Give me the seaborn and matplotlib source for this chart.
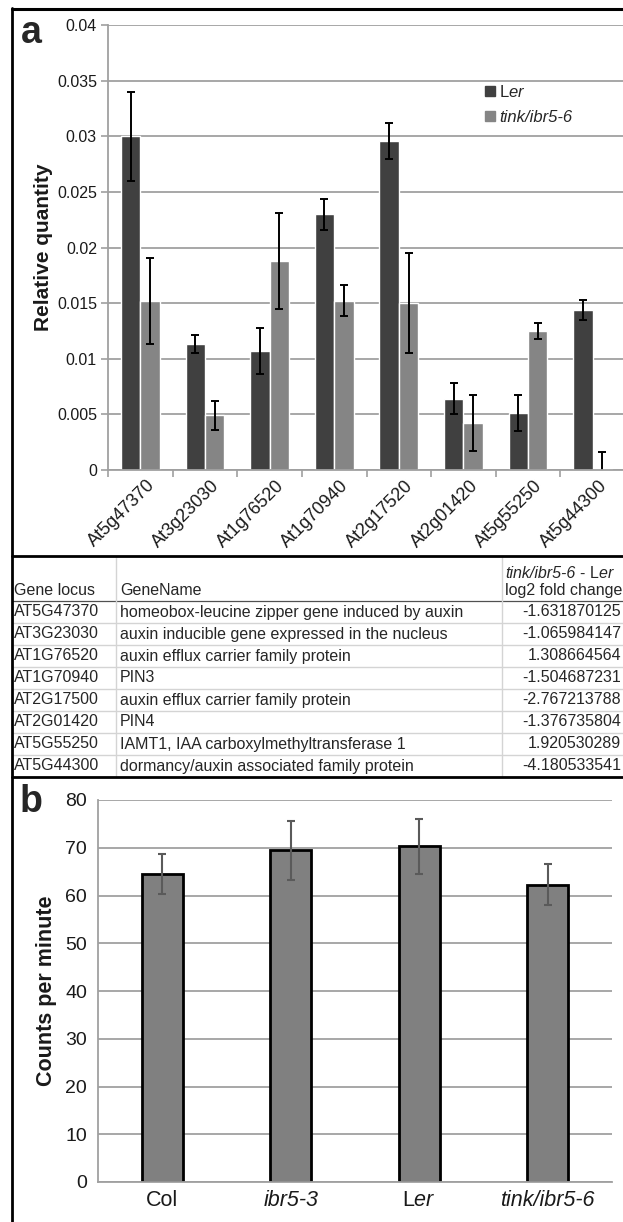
import numpy as np
import pandas as pd
import seaborn as sns
import matplotlib.pyplot as plt
from matplotlib.patches import Patch
from matplotlib.lines import Line2D
from matplotlib import transforms

sns.set_style("white")
plt.rcParams['font.family'] = ['Liberation Sans', 'DejaVu Sans']
plt.rcParams['mathtext.fontset'] = 'custom'
plt.rcParams['mathtext.rm'] = 'Liberation Sans'
plt.rcParams['mathtext.it'] = 'Liberation Sans:italic'
plt.rcParams['mathtext.bf'] = 'Liberation Sans:bold'

# panel a - qPCR relative quantity
genes = ["At5g47370", "At3g23030", "At1g76520", "At1g70940",
         "At2g17520", "At2g01420", "At5g55250", "At5g44300"]
ler_qty = [0.0300, 0.0113, 0.0107, 0.0230, 0.0296, 0.0064, 0.0051, 0.0144]
ler_err = [0.0040, 0.0008, 0.0021, 0.0014, 0.0016, 0.0014, 0.0016, 0.0009]
tink_qty = [0.0152, 0.0049, 0.0188, 0.0152, 0.0150, 0.0042, 0.0125, 0.0001]
tink_err = [0.0039, 0.0013, 0.0043, 0.0014, 0.0045, 0.0025, 0.0007, 0.0015]
lines = ["Ler", "tink/ibr5-6"]
ya_ticks = [0, 0.005, 0.01, 0.015, 0.02, 0.025, 0.03, 0.035, 0.04]
ya_labels = ["0", "0.005", "0.01", "0.015", "0.02", "0.025", "0.03", "0.035", "0.04"]

# table between the panels
tab_locus = ["AT5G47370", "AT3G23030", "AT1G76520", "AT1G70940",
             "AT2G17500", "AT2G01420", "AT5G55250", "AT5G44300"]
tab_name = ["homeobox-leucine zipper gene induced by auxin",
            "auxin inducible gene expressed in the nucleus",
            "auxin efflux carrier family protein",
            "PIN3",
            "auxin efflux carrier family protein",
            "PIN4",
            "IAMT1, IAA carboxylmethyltransferase 1",
            "dormancy/auxin associated family protein"]
tab_fc = ["-1.631870125", "-1.065984147", "1.308664564", "-1.504687231",
          "-2.767213788", "-1.376735804", "1.920530289", "-4.180533541"]

# panel b - counts per minute
genotypes = ["Col", "ibr5-3", "Ler", "tink/ibr5-6"]
geno_labels = ["Col", "ibr5-3", "L$\\mathit{er}$", "tink/ibr5-6"]
cpm = [64.5, 69.5, 70.3, 62.3]
cpm_err = [4.2, 6.2, 5.7, 4.2]

C_LER = "#404040"
C_TINK = "#858585"
GRID = "#A0A0A0"
TXT = "#1a1a1a"

W, H = 623, 1222
fig = plt.figure(figsize=(W / 100, H / 100), dpi=100)


def box(x0, y0, x1, y1):
    return [x0 / W, 1 - y1 / H, (x1 - x0) / W, (y1 - y0) / H]


def fline(xs, ys, **kw):
    fig.add_artist(Line2D([x / W for x in xs], [1 - y / H for y in ys],
                          transform=fig.transFigure, **kw))


# ---------------- panel a ----------------
axa = fig.add_axes(box(108, 25, 625, 470))
df_a = pd.DataFrame({"gene": genes * 2,
                     "line": [lines[0]] * len(genes) + [lines[1]] * len(genes),
                     "qty": ler_qty + tink_qty})
sns.barplot(data=df_a, x="gene", y="qty", hue="line", palette=[C_LER, C_TINK],
            saturation=1, width=0.6, gap=0, errorbar=None, legend=False, ax=axa)
for cont, errs in zip(axa.containers, [ler_err, tink_err]):
    xs = [p.get_x() + p.get_width() / 2 for p in cont]
    ys = [p.get_height() for p in cont]
    axa.errorbar(xs, ys, yerr=errs, fmt="none", ecolor="black",
                 elinewidth=1.4, capsize=2.6, capthick=1.4)

axa.set_ylim(0, 0.04)
axa.set_xlim(-0.5, len(genes) - 0.5)
axa.set_yticks(ya_ticks)
axa.set_yticklabels(ya_labels)
axa.yaxis.grid(True, color=GRID, lw=1.3)
axa.set_axisbelow(True)
for s in ["top", "right"]:
    axa.spines[s].set_visible(False)
for s in ["left", "bottom"]:
    axa.spines[s].set_color(GRID)
    axa.spines[s].set_linewidth(1.3)
axa.tick_params(axis="y", left=True, length=5, width=1.2, color=GRID,
                labelsize=11.5, pad=3, labelcolor=TXT)
axa.set_xticks(np.arange(-0.5, len(genes), 1), minor=True)
axa.tick_params(axis="x", which="minor", bottom=True, length=5, width=1.2, color=GRID)
axa.tick_params(axis="x", which="major", length=0, pad=5)
axa.set_xticks(range(len(genes)))
axa.set_xticklabels(genes, rotation=45, ha="right", va="top",
                    rotation_mode="anchor", fontsize=13, color=TXT)
for lbl in axa.get_xticklabels():
    lbl.set_transform(lbl.get_transform() +
                      transforms.ScaledTranslation(6 / 100, 0, fig.dpi_scale_trans))
axa.set_xlabel("")
axa.set_ylabel("Relative quantity", fontsize=15, fontweight="bold", color=TXT)
axa.yaxis.set_label_coords(-0.106, 0.5)

handles = [Patch(color=C_LER), Patch(color=C_TINK)]
leg = axa.legend(handles, ["L$\\mathit{er}$", lines[1]], loc="upper left",
                 bbox_to_anchor=(0.729, 0.868), frameon=False, fontsize=12,
                 handlelength=0.6, handleheight=0.6, handletextpad=0.25,
                 labelspacing=0.6, borderpad=0, borderaxespad=0)
leg.get_texts()[1].set_fontstyle("italic")

# ---------------- table ----------------
FS_T = 11.5
row_top = 601
row_h = 22
fig.text(14 / W, 1 - 590 / H, "Gene locus", fontsize=FS_T, va="center")
fig.text(120 / W, 1 - 590 / H, "GeneName", fontsize=FS_T, va="center")
t1 = fig.text(505 / W, 1 - 573 / H, "tink/ibr5-6", fontsize=FS_T, va="center",
              fontstyle="italic")
axa.annotate(" - L$\\mathit{er}$", xy=(1, 0.5), xycoords=t1, va="center",
             ha="left", fontsize=FS_T, annotation_clip=False)
fig.text(505 / W, 1 - 590 / H, "log2 fold change", fontsize=FS_T, va="center")
for i in range(len(tab_locus)):
    yc = row_top + row_h * i + row_h / 2
    fig.text(14 / W, 1 - yc / H, tab_locus[i], fontsize=FS_T, va="center")
    fig.text(120 / W, 1 - yc / H, tab_name[i], fontsize=FS_T, va="center")
    fig.text(621 / W, 1 - yc / H, tab_fc[i], fontsize=FS_T, va="center", ha="right")
    if i > 0:
        fline([12, 623], [row_top + row_h * i] * 2, color="#D4D4D4", lw=1)
fline([12, 623], [row_top, row_top], color="#505050", lw=0.9)
fline([116, 116], [557, 776], color="#D4D4D4", lw=1)
fline([502, 502], [557, 776], color="#D4D4D4", lw=1)

# ---------------- panel b ----------------
axb = fig.add_axes(box(98, 800, 612, 1182))
sns.barplot(x=genotypes, y=cpm, color="#808080", saturation=1, width=0.32,
            edgecolor="black", linewidth=2, errorbar=None, ax=axb)
cont = axb.containers[0]
xs = [p.get_x() + p.get_width() / 2 for p in cont]
ys = [p.get_height() for p in cont]
axb.errorbar(xs, ys, yerr=cpm_err, fmt="none", ecolor="#5a5a5a",
             elinewidth=1.5, capsize=3, capthick=1.5)
axb.set_ylim(0, 80)
axb.set_xlim(-0.5, len(genotypes) - 0.5)
axb.set_yticks(np.arange(0, 81, 10))
axb.yaxis.grid(True, color=GRID, lw=1.3)
axb.set_axisbelow(True)
for s in ["top", "right"]:
    axb.spines[s].set_visible(False)
for s in ["left", "bottom"]:
    axb.spines[s].set_color(GRID)
    axb.spines[s].set_linewidth(1.3)
axb.tick_params(axis="y", length=0, labelsize=14, pad=8, labelcolor=TXT)
axb.tick_params(axis="x", length=0, labelsize=15.5, pad=6, labelcolor=TXT)
axb.set_xticks(range(len(genotypes)))
axb.set_xticklabels(geno_labels)
for i in [1, 3]:
    axb.get_xticklabels()[i].set_fontstyle("italic")
axb.set_xlabel("")
axb.set_ylabel("Counts per minute", fontsize=15.5, fontweight="bold", color=TXT)
axb.yaxis.set_label_coords(-0.08, 0.5)

# panel labels and frame
fig.text(21 / W, 1 - 43 / H, "a", fontsize=27, fontweight="bold", va="baseline")
fig.text(20 / W, 1 - 812 / H, "b", fontsize=27, fontweight="bold", va="baseline")
fline([12, 623], [8.5, 8.5], color="black", lw=2.2)
fline([12, 12], [7.5, 1222], color="black", lw=2)
fline([12, 623], [556, 556], color="black", lw=2)
fline([12, 623], [777, 777], color="black", lw=2)

fig.savefig("out.png", dpi=100)
